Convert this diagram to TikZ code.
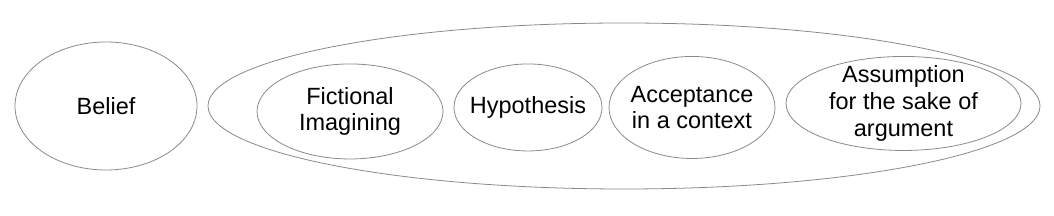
\documentclass[tikz,border=0pt]{standalone}
\usepackage{fontspec}
\setmainfont{Liberation Sans}
\usepackage{tikz}
\usetikzlibrary{positioning,shapes.geometric}
\definecolor{edge}{HTML}{8A8A8A}

\begin{document}
\begin{tikzpicture}[
  font=\fontsize{17.6}{20}\selectfont,
  oval/.style 2 args={draw=edge,line width=0.6pt,ellipse,inner sep=0pt,outer sep=0pt,
    minimum width=#1*0.75pt,minimum height=#2*0.75pt},
  every label/.style={align=center,inner sep=0pt}
]
\useasboundingbox (0,0) rectangle (790.5pt,-162pt);
\node[oval={182}{128},label=center:Belief] (belief) at (79.5pt,-79.5pt) {};
\node[oval={832}{166},right=8.25pt of belief] (kinds) {};
\node[oval={186}{95},right=36.75pt of kinds.west,yshift=-4.1pt,
  label={center:Fictional\\Imagining}] (fict) {};
\node[oval={148}{87},right=8.25pt of fict,yshift=3pt,label=center:Hypothesis] (hyp) {};
\node[oval={166}{102},right=5.25pt of hyp,
  label={center:Acceptance\\in a context}] (acc) {};
\node[oval={235}{94},right=8.25pt of acc,yshift=3pt,
  label={center:Assumption\\for the sake of\\argument}] (assum) {};
\end{tikzpicture}
\end{document}
